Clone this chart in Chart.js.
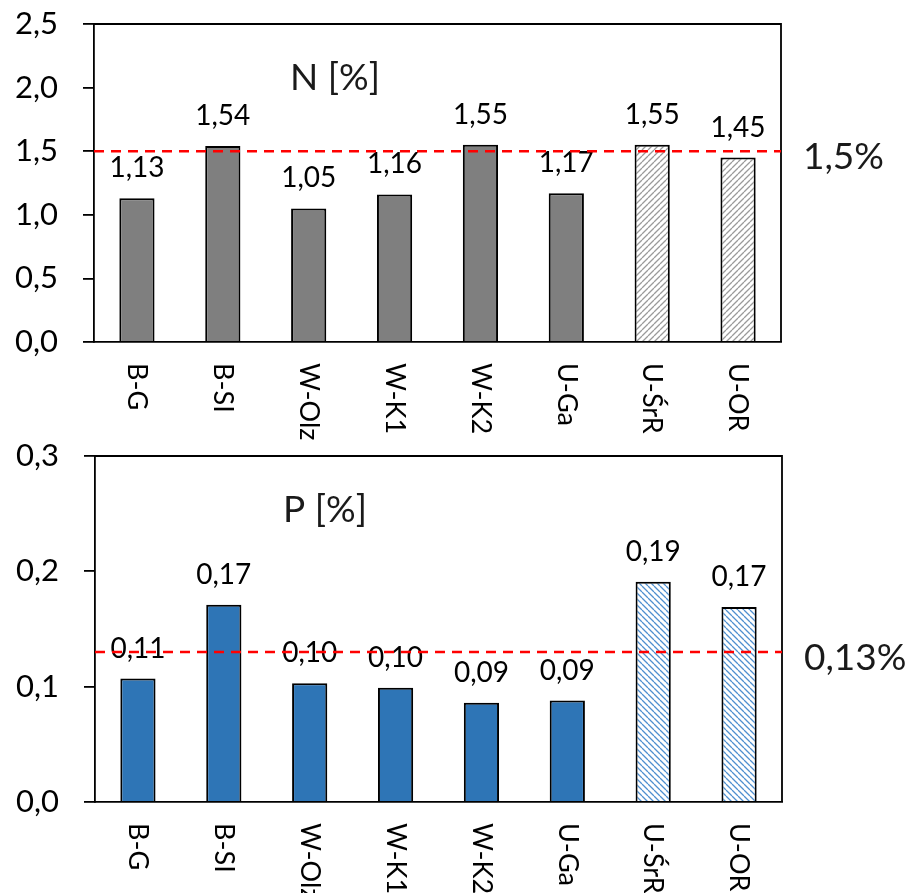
<!DOCTYPE html>
<html>
<head>
<meta charset="utf-8">
<title>N i P</title>
<script src="https://cdn.jsdelivr.net/npm/chart.js@4.4.1/dist/chart.umd.min.js"></script>
<style>
  html, body { margin: 0; padding: 0; background: #fff; }
  body { width: 909px; height: 893px; position: relative; overflow: hidden; }
  .panel { position: absolute; left: 0; }
  #panel-n { top: 0; }
  #panel-p { top: 430px; }
</style>
</head>
<body>
<div class="panel" id="panel-n"><canvas id="chart-n" width="909" height="440"></canvas></div>
<div class="panel" id="panel-p"><canvas id="chart-p" width="909" height="463"></canvas></div>
<script>
const categories = ['B-G', 'B-SI', 'W-Olz', 'W-K1', 'W-K2', 'U-Ga', 'U-ŚrR', 'U-OR'];
const hatchedSites = ['U-ŚrR', 'U-OR'];

const nitrogen = [1.13, 1.54, 1.05, 1.16, 1.55, 1.17, 1.55, 1.45];
const phosphorus = [0.107, 0.171, 0.103, 0.099, 0.086, 0.088, 0.191, 0.169];

const nLimit = 1.5;
const pLimit = 0.13;

const nAxis = { max: 2.5, step: 0.5 };
const pAxis = { max: 0.3, step: 0.1 };

const FONT = 'Lato, "Open Sans", sans-serif';

const comma = (v, d) => v.toFixed(d).replace('.', ',');

function hatch(color, rising) {
  const size = 6;
  const c = document.createElement('canvas');
  c.width = size;
  c.height = size;
  const g = c.getContext('2d');
  g.fillStyle = '#fff';
  g.fillRect(0, 0, size, size);
  g.strokeStyle = color;
  g.lineWidth = 1.3;
  g.beginPath();
  for (let k = -1; k <= 1; k++) {
    const o = k * size;
    if (rising) {
      g.moveTo(o, size);
      g.lineTo(o + size, 0);
    } else {
      g.moveTo(o, 0);
      g.lineTo(o + size, size);
    }
  }
  g.stroke();
  return g.createPattern(c, 'repeat');
}

// labels, limit line, frame and rotated site names
const decor = {
  id: 'decor',
  afterDatasetsDraw(chart, args, opts) {
    const { ctx, chartArea: a, scales: { x, y } } = chart;
    const values = chart.data.datasets[0].data;
    ctx.save();

    // value above each bar
    ctx.fillStyle = '#000';
    ctx.font = `28px ${FONT}`;
    ctx.textAlign = 'center';
    ctx.textBaseline = 'alphabetic';
    values.forEach((v, i) => {
      ctx.fillText(comma(v, opts.digits), x.getPixelForValue(i), y.getPixelForValue(v) - 21);
    });

    // top and right edge of the plot frame
    ctx.strokeStyle = '#000';
    ctx.lineWidth = 1.8;
    ctx.beginPath();
    ctx.moveTo(a.left, a.top);
    ctx.lineTo(a.right, a.top);
    ctx.lineTo(a.right, a.bottom);
    ctx.stroke();

    // limit line
    const ly = y.getPixelForValue(opts.limit);
    ctx.strokeStyle = '#ff0000';
    ctx.lineWidth = 2.5;
    ctx.setLineDash([10, 7]);
    ctx.beginPath();
    ctx.moveTo(a.left, ly);
    ctx.lineTo(a.right, ly);
    ctx.stroke();
    ctx.setLineDash([]);

    ctx.fillStyle = '#1a1a1a';
    ctx.font = `37px ${FONT}`;
    ctx.textAlign = 'left';
    ctx.fillText(String(opts.limit).replace('.', ',') + '%', a.right + 22, ly + 18);

    // panel title
    ctx.font = `37px ${FONT}`;
    ctx.fillText(opts.title, a.left + opts.titleX, a.top + 66);

    // site names, rotated to read downwards
    ctx.fillStyle = '#000';
    ctx.font = `27px ${FONT}`;
    ctx.textBaseline = 'middle';
    chart.data.labels.forEach((lab, i) => {
      ctx.save();
      ctx.translate(x.getPixelForValue(i), a.bottom + 21);
      ctx.rotate(Math.PI / 2);
      ctx.fillText(lab, 0, 0);
      ctx.restore();
    });

    ctx.restore();
  }
};

function makeChart(id, values, axis, fill, hatchFill, o) {
  return new Chart(document.getElementById(id), {
    type: 'bar',
    data: {
      labels: categories,
      datasets: [{
        data: values,
        backgroundColor: categories.map((c) => hatchedSites.includes(c) ? hatchFill : fill),
        borderColor: '#000',
        borderWidth: 2,
        barPercentage: 0.41,
        categoryPercentage: 1,
      }],
    },
    options: {
      responsive: false,
      animation: false,
      layout: { padding: { top: o.top, right: o.right, bottom: 0, left: 0 } },
      plugins: {
        legend: { display: false },
        tooltip: { enabled: false },
        decor: { limit: o.limit, digits: o.digits, title: o.title, titleX: o.titleX },
      },
      scales: {
        x: {
          grid: { display: false },
          border: { display: true, color: '#000', width: 1.8 },
          ticks: { display: false },
          afterFit: (s) => { s.height = o.xHeight; },
        },
        y: {
          min: 0,
          max: axis.max,
          ticks: {
            stepSize: axis.step,
            color: '#000',
            padding: 25,
            font: { family: FONT, size: 31 },
            callback: (v) => comma(v, 1),
          },
          grid: {
            drawOnChartArea: false,
            drawTicks: true,
            tickLength: 11,
            tickColor: '#000',
            lineWidth: 1.8,
          },
          border: { display: true, color: '#000', width: 1.8 },
          // fixed axis width; tick padding should not push the plot down
          afterFit: (s) => {
            s.width = o.yWidth;
            s.paddingTop = 0;
            s.paddingBottom = 0;
          },
        },
      },
    },
    plugins: [decor],
  });
}

makeChart('chart-n', nitrogen, nAxis, '#7f7f7f', hatch('#9a9a9a', true), {
  top: 24, right: 128, xHeight: 98, yWidth: 94,
  limit: nLimit, digits: 2, title: 'N [%]', titleX: 196,
});

makeChart('chart-p', phosphorus, pAxis, '#2e75b6', hatch('#4f8fcf', false), {
  top: 26, right: 127, xHeight: 91, yWidth: 95,
  limit: pLimit, digits: 2, title: 'P [%]', titleX: 188,
});
</script>
</body>
</html>
